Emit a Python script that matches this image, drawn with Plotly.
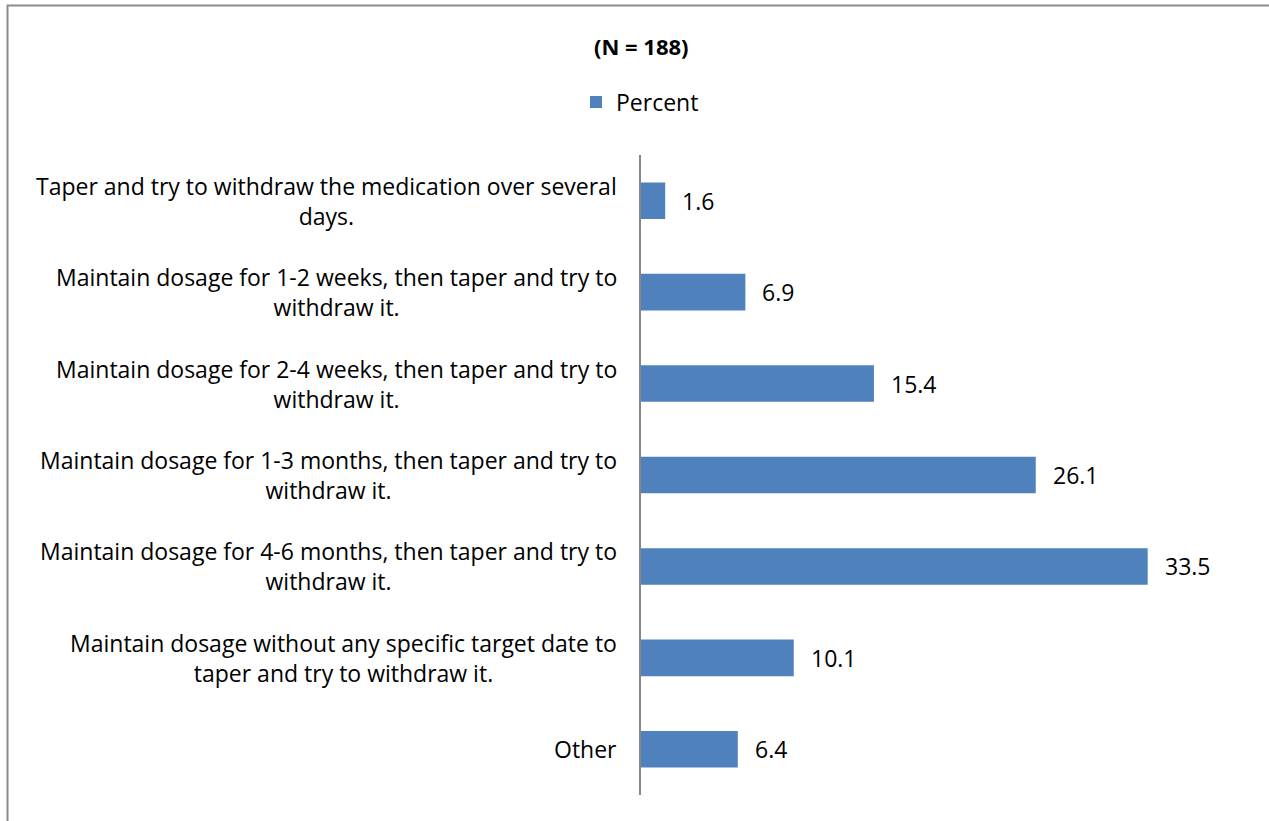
import plotly.graph_objects as go

# Survey responses (N = 188)
categories = [
    "Taper and try to withdraw the medication over several<br>days.",
    "Maintain dosage for 1-2 weeks, then taper and try to<br>withdraw it.",
    "Maintain dosage for 2-4 weeks, then taper and try to<br>withdraw it.",
    "Maintain dosage for 1-3 months, then taper and try to<br>withdraw it.",
    "Maintain dosage for 4-6 months, then taper and try to<br>withdraw it.",
    "Maintain dosage without any specific target date to<br>taper and try to withdraw it.",
    "Other",
]
percent = [1.6, 6.9, 15.4, 26.1, 33.5, 10.1, 6.4]

W, H = 1269, 821
L, R, T, B = 641, 23, 155, 26
FONT = "Open Sans, sans-serif"
FS = 23
BAR = "#4F81BD"

pw, ph = W - L - R, H - T - B
def px_x(p):
    return (p - L) / pw
def px_y(p):
    return 1 - (p - T) / ph

fig = go.Figure()
fig.add_trace(go.Bar(
    x=percent, y=categories, orientation="h", name="Percent",
    marker=dict(color=BAR, line=dict(width=0)), width=0.4,
    showlegend=True,
))

annotations = []
# value labels right of each bar
for c, v in zip(categories, percent):
    annotations.append(dict(
        x=v, y=c, xref="x", yref="y", text=f"{v}", showarrow=False,
        xanchor="left", yanchor="middle", xshift=15,
        font=dict(family=FONT, size=FS, color="#000000"),
    ))
# category labels, block right-aligned, lines centered
for c in categories:
    annotations.append(dict(
        x=0, y=c, xref="paper", yref="y", text=c, showarrow=False,
        xanchor="right", yanchor="middle", align="center", xshift=-22,
        font=dict(family=FONT, size=FS, color="#000000"),
    ))
# chart title
annotations.append(dict(
    x=px_x(641), y=px_y(46), xref="paper", yref="paper",
    text="<b>(N = 188)</b>", showarrow=False, xanchor="center", yanchor="middle",
    font=dict(family=FONT, size=22, color="#000000"),
))

fig.update_layout(
    width=W, height=H,
    margin=dict(l=L, r=R, t=T, b=B, pad=0),
    paper_bgcolor="white", plot_bgcolor="white",
    font=dict(family=FONT, size=FS, color="#000000"),
    bargap=0.6,
    xaxis=dict(range=[0, 40], visible=False, fixedrange=True),
    yaxis=dict(
        categoryorder="array", categoryarray=categories, autorange="reversed",
        showticklabels=False, showgrid=False, zeroline=False, ticks="",
        showline=True, linecolor="#868686", linewidth=1.5,
    ),
    legend=dict(
        orientation="h", xref="container", yref="container",
        x=640 / W, xanchor="center", y=1 - 102 / H, yanchor="middle",
        font=dict(family=FONT, size=FS), itemsizing="constant",
        itemwidth=30, tracegroupgap=0,
    ),
    annotations=annotations,
    shapes=[dict(
        type="rect", xref="paper", yref="paper",
        x0=px_x(7.5), x1=px_x(W + 20), y0=px_y(H + 20), y1=px_y(5.5),
        line=dict(color="#8C8C8C", width=2), fillcolor="rgba(0,0,0,0)", layer="above",
    )],
)

fig.write_html("out.html")
